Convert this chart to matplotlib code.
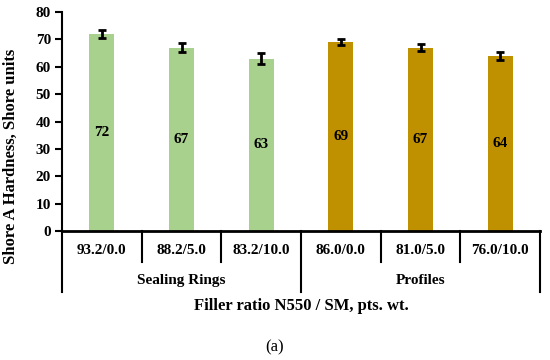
import matplotlib.pyplot as plt

categories = ["93.2/0.0", "88.2/5.0", "83.2/10.0", "86.0/0.0", "81.0/5.0", "76.0/10.0"]
values = [72, 67, 63, 69, 67, 64]
errors = [1.5, 1.5, 2.0, 1.0, 1.3, 1.5]
groups = ["Sealing Rings", "Profiles"]
group_sizes = [3, 3]
group_colors = ["#A9D18E", "#BF9000"]
yticks = [0, 10, 20, 30, 40, 50, 60, 70, 80]

plt.rcParams['font.family'] = ['Liberation Serif', 'DejaVu Serif']
plt.rcParams['font.weight'] = 'bold'

fig = plt.figure(figsize=(5.5, 3.6), dpi=100)
ax = fig.add_axes([62/550, 1-231/360, 478/550, 219/360])

colors = []
for g, n in enumerate(group_sizes):
    colors += [group_colors[g]] * n
x = list(range(len(categories)))
ax.bar(x, values, width=0.31, color=colors, zorder=2)
ax.errorbar(x, values, yerr=errors, fmt='none', ecolor='black', elinewidth=2,
            capsize=3, capthick=2, zorder=3)
for xi, v in zip(x, values):
    ax.text(xi, v/2, str(v), ha='center', va='center', fontsize=11, fontweight='bold')

ax.set_xlim(-0.5, len(categories)-0.5)
ax.set_ylim(0, 80)
ax.set_yticks(yticks)
ax.tick_params(axis='y', labelsize=11, length=5, width=1.5, direction='out', pad=3)
ax.set_xticks([])
for s in ['top', 'right']:
    ax.spines[s].set_visible(False)
ax.spines['left'].set_linewidth(1.5)
ax.spines['bottom'].set_linewidth(2)

tr = ax.get_xaxis_transform()
short = -0.1416
long_ = -0.279
ax.plot([-0.5, -0.5], [0, long_], color='black', lw=1.5, transform=tr, clip_on=False)
pos = 0
for g, n in enumerate(group_sizes):
    for k in range(1, n):
        xs = pos + k - 0.5
        ax.plot([xs, xs], [0, short], color='black', lw=1.5, transform=tr, clip_on=False)
    end = pos + n - 0.5
    ax.plot([end, end], [0, long_], color='black', lw=1.5, transform=tr, clip_on=False)
    ax.text(pos + (n-1)/2, -0.228, groups[g], ha='center', va='center', transform=tr,
            fontsize=11, fontweight='bold')
    pos += n
for xi, c in zip(x, categories):
    ax.text(xi, -0.091, c, ha='center', va='center', transform=tr, fontsize=11, fontweight='bold')

fig.text(301/550, 1-306/360, "Filler ratio N550 / SM, pts. wt.", ha='center', va='center',
         fontsize=12, fontweight='bold')
ax.set_ylabel("Shore A Hardness, Shore units", fontsize=12, fontweight='bold')
ax.yaxis.set_label_coords(-0.09, 0.34)
fig.text(0.5, 1-347/360, "(a)", ha='center', va='center', fontsize=12, fontweight='normal')

fig.savefig("out.png", dpi=100)
